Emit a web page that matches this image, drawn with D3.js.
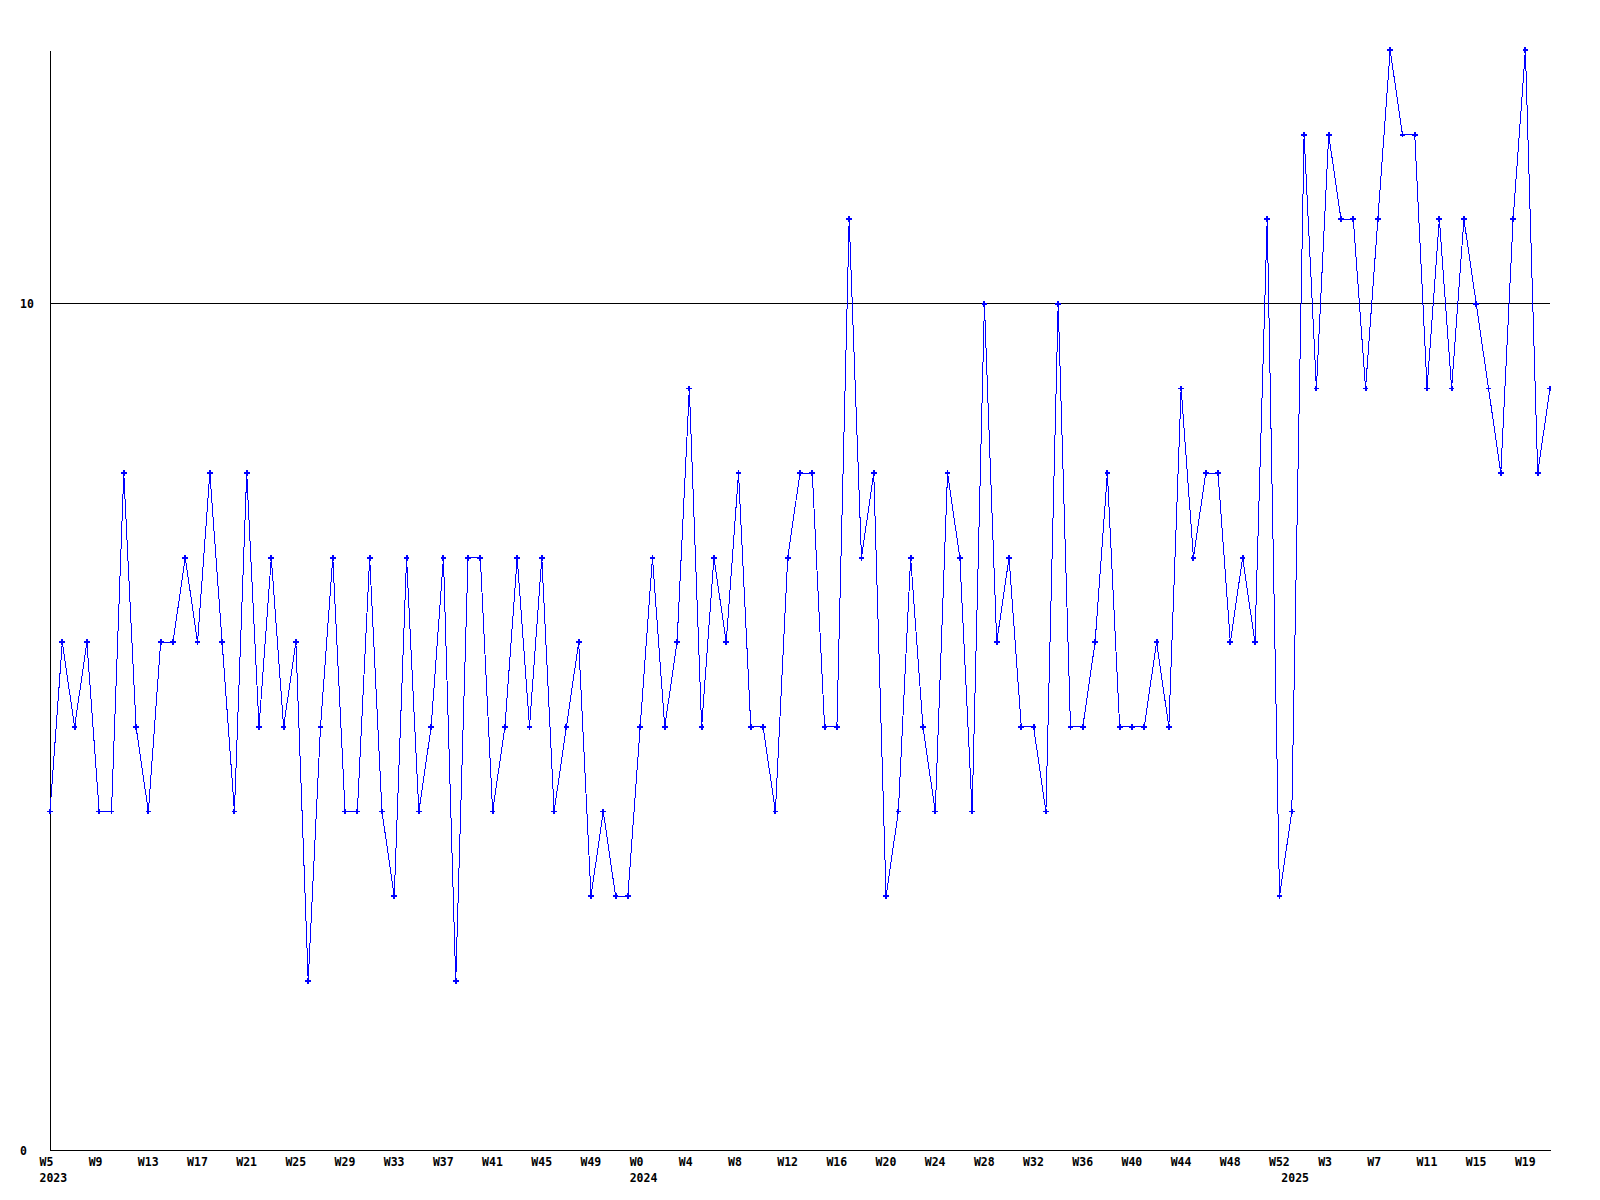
<!DOCTYPE html>
<html><head><meta charset="utf-8">
<script src="https://cdn.jsdelivr.net/npm/d3@7"></script>
<style>
body{margin:0;background:#fff}
svg{display:block;background:#fff}
text{font-family:"DejaVu Sans Mono",monospace;font-weight:bold;font-size:11.5px;fill:#000}
</style>
</head><body><svg id="c" width="1600" height="1200"></svg>
<script>
// categories: week numbers per year
const years = ["2023", "2024", "2025"];
const yearFirstWeek = [5, 0, 0];
const yearLastWeek = [52, 52, 21];

// series values, one per week
const values = [
  4,6,5,6,4,4,8,5,4,6,6,7,6,8,6,4,8,5,7,5,6,2,5,7,
  4,4,7,4,3,7,4,5,7,2,7,7,4,5,7,5,7,4,5,6,3,4,3,3,
  5,7,5,6,9,5,7,6,8,5,5,4,7,8,8,5,5,11,7,8,3,4,7,
  5,4,8,7,4,10,6,7,5,5,4,10,5,5,6,8,5,5,5,6,5,9,7,
  8,8,6,7,6,11,3,4,12,9,12,11,11,9,11,13,12,12,9,11,9,11,10,9,8,11,13,8,9
];

const yTicks = [0, 10];
const yMax = 13;
const xTickEvery = 4;

// build category list
const cats = [];
years.forEach((yr, yi) => {
  for (let w = yearFirstWeek[yi]; w <= yearLastWeek[yi]; w++) {
    cats.push({key: yr + "-W" + w, year: yr, week: w, first: w === yearFirstWeek[yi]});
  }
});
const data = cats.map((c, i) => ({key: c.key, v: values[i]}));
const catByKey = new Map(cats.map(c => [c.key, c]));

const svg = d3.select("#c");
const L = 50, R = 1550, T = 50, B = 1150;

const x = d3.scalePoint().domain(cats.map(c => c.key)).range([L, R]);
const y = d3.scaleLinear().domain([0, yMax]).range([B, T]);

svg.append("defs").append("clipPath").attr("id", "plot")
  .append("rect").attr("x", 0).attr("y", 0).attr("width", R + 1).attr("height", 1200);

// gridline at 10
svg.append("g").selectAll("line").data(yTicks.filter(t => t > 0)).join("line")
  .attr("x1", L).attr("x2", R)
  .attr("y1", d => Math.floor(y(d)) + 0.5).attr("y2", d => Math.floor(y(d)) + 0.5)
  .attr("stroke", "#000").attr("stroke-width", 1).attr("shape-rendering", "crispEdges");

// x axis with week labels
const xAxis = d3.axisBottom(x)
  .tickValues(cats.filter((c, i) => i % xTickEvery === 0).map(c => c.key))
  .tickFormat(k => "W" + catByKey.get(k).week)
  .tickSize(0).tickSizeOuter(0);
const gx = svg.append("g").attr("transform", `translate(0,${B})`).call(xAxis);
gx.select(".domain").attr("stroke", "#000").attr("shape-rendering", "crispEdges");
gx.selectAll("text").attr("text-anchor", "start").attr("x", -11).attr("y", 16).attr("dy", null)
  .attr("font-family", null).attr("font-size", null).attr("fill", "#000");

// year labels
const yearAxis = d3.axisBottom(x)
  .tickValues(cats.filter(c => c.first).map(c => c.key))
  .tickFormat(k => catByKey.get(k).year)
  .tickSize(0).tickSizeOuter(0);
const gyr = svg.append("g").attr("transform", `translate(0,${B})`).call(yearAxis);
gyr.select(".domain").remove();
gyr.selectAll("text").attr("text-anchor", "start").attr("x", -11).attr("y", 32).attr("dy", null)
  .attr("font-family", null).attr("font-size", null).attr("fill", "#000");

// y axis
const yAxis = d3.axisLeft(y).tickValues(yTicks).tickFormat(d3.format("d")).tickSize(0).tickSizeOuter(0);
const gy = svg.append("g").attr("transform", `translate(${L},0)`).call(yAxis);
gy.select(".domain").attr("stroke", "#000").attr("shape-rendering", "crispEdges");
gy.selectAll("text").attr("text-anchor", "start").attr("x", -30).attr("dy", "0.36em")
  .attr("font-family", null).attr("font-size", null).attr("fill", "#000");

const plot = svg.append("g").attr("clip-path", "url(#plot)");

// series line
const line = d3.line().x(d => x(d.key)).y(d => y(d.v));
plot.append("path").datum(data)
  .attr("d", line)
  .attr("fill", "none").attr("stroke", "#0000ff").attr("stroke-width", 1)
  .attr("shape-rendering", "crispEdges");

// markers
plot.append("g").selectAll("path").data(data).join("path")
  .attr("transform", d => `translate(${x(d.key)},${y(d.v)})`)
  .attr("d", d3.symbol(d3.symbolCross, 18))
  .attr("fill", "#0000ff").attr("shape-rendering", "crispEdges");
</script>
</body></html>
